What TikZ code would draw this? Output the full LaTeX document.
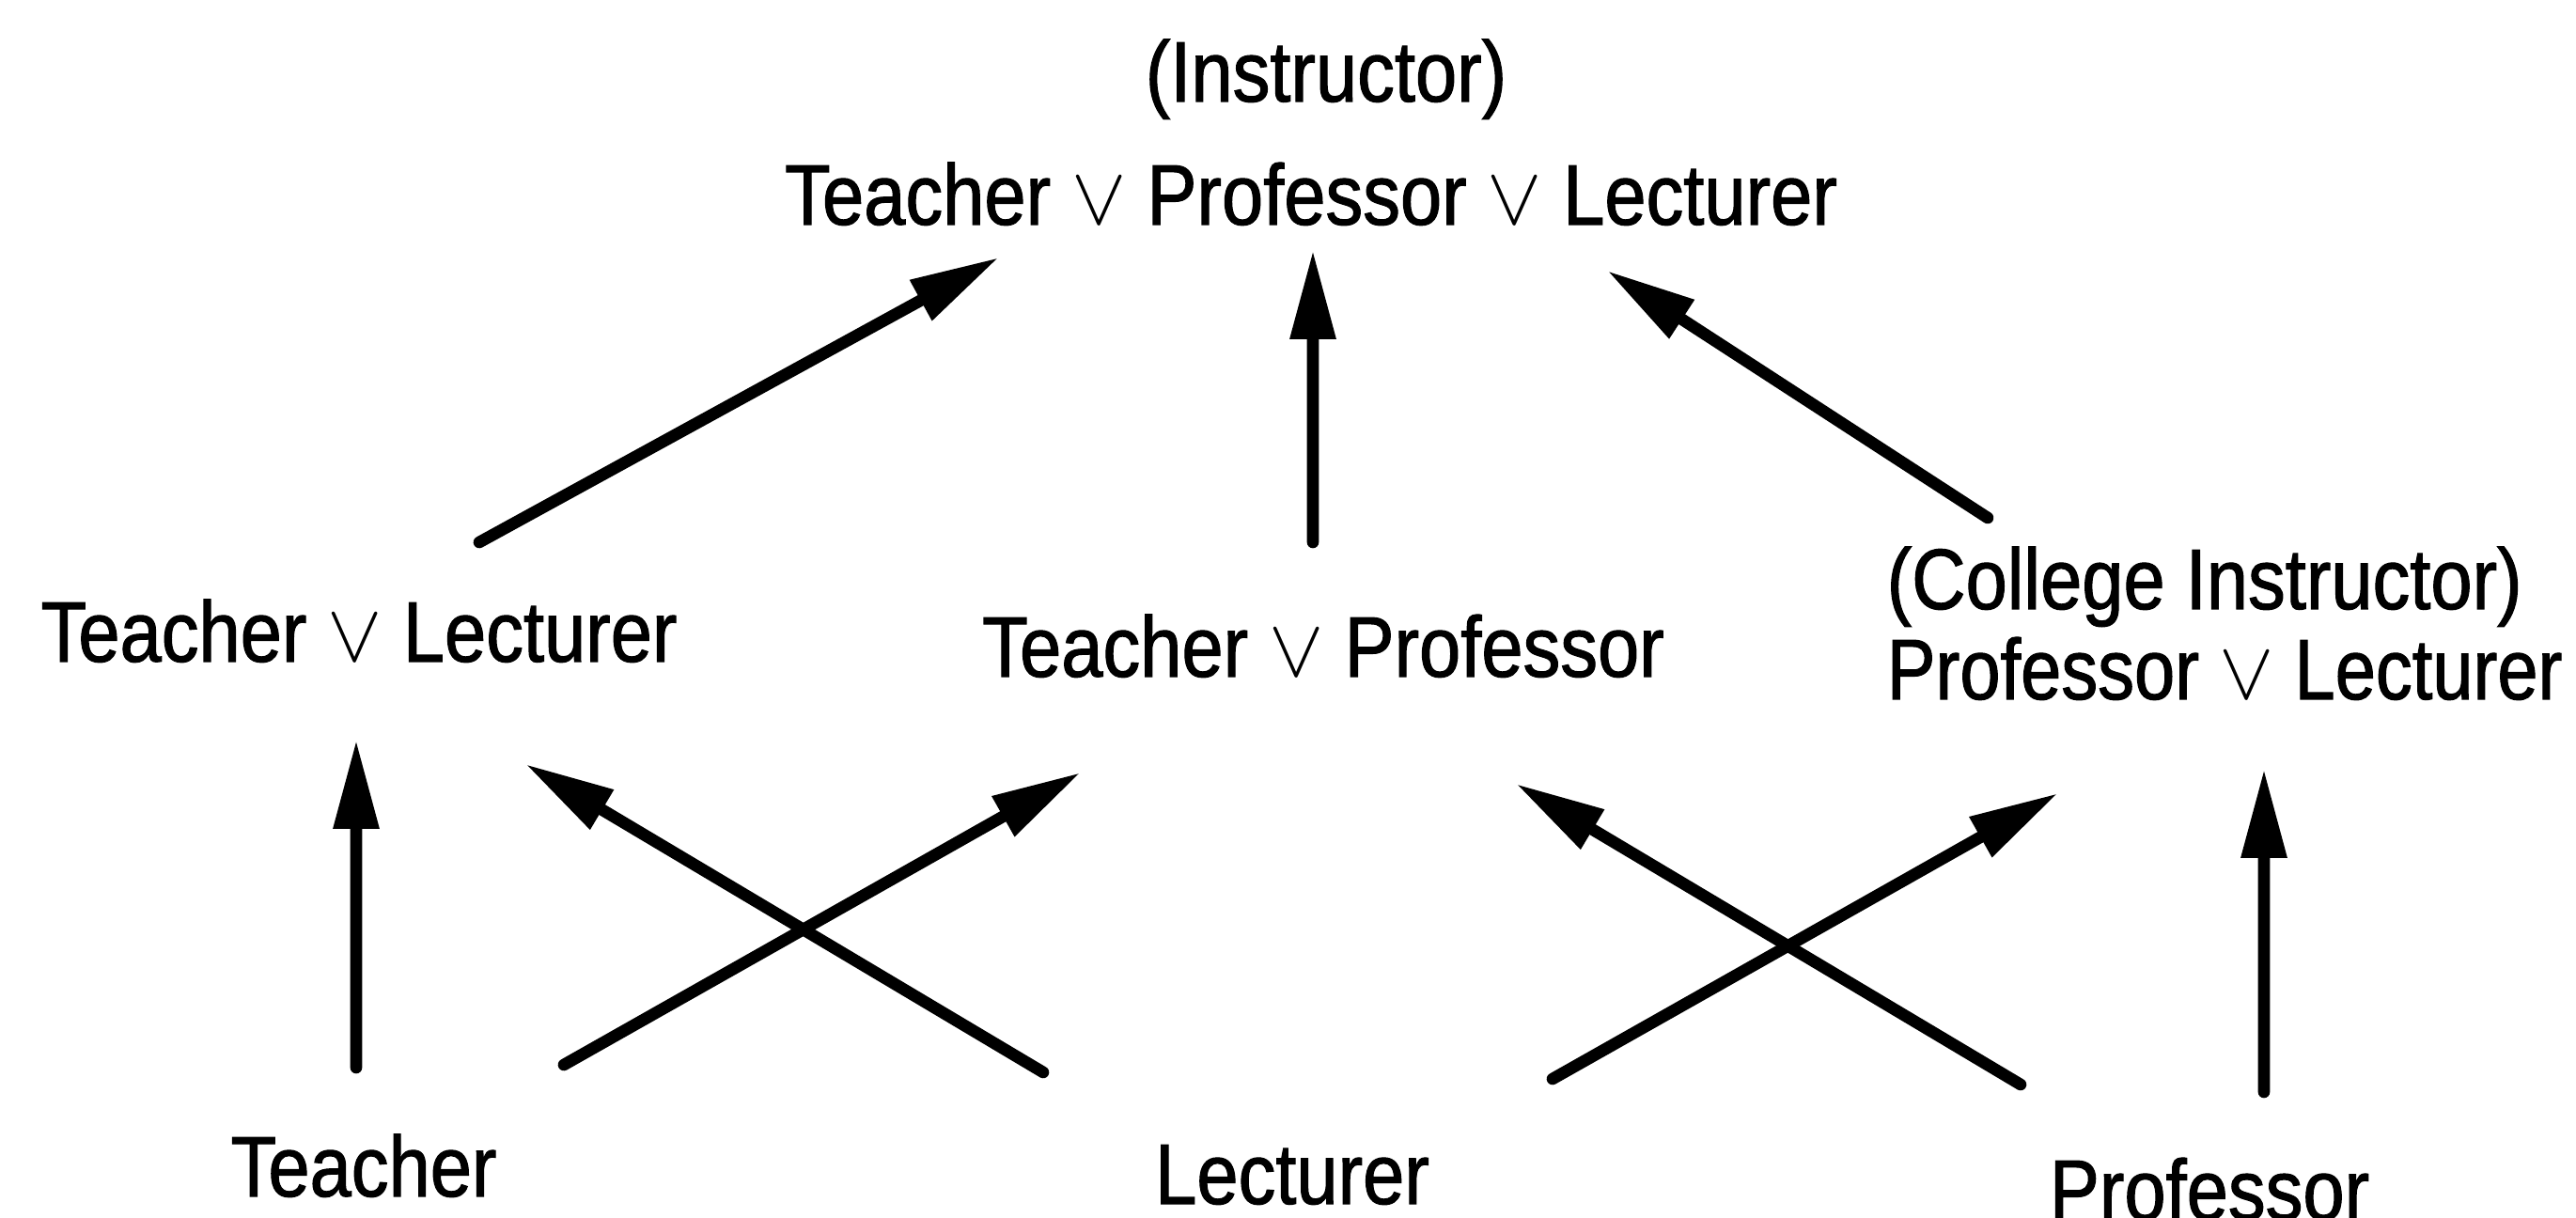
\documentclass[tikz,border=0pt]{standalone}
\usepackage{fontspec}
\setmainfont{Liberation Sans}[FakeStretch=0.87,FakeBold=1.2]
\usetikzlibrary{arrows.meta}

\newcommand{\orop}{$\vee$}

\begin{document}
\begin{tikzpicture}[font=\fontsize{26pt}{30pt}\selectfont,
  lbl/.style={inner sep=0pt,anchor=base},
  lblw/.style={inner sep=0pt,anchor=base west},
  arr/.style={-{Triangle[length=9.5mm,width=4.6mm]},line width=3.6pt,line cap=round}]
  \useasboundingbox (0,0) rectangle (27.41,12.96);
  \node[lbl] (inst) at (14.11,11.88) {(Instructor)};
  \node[lbl] (top) at (13.95,10.57) {Teacher \orop{} Professor \orop{} Lecturer};
  \node[lbl] (TL) at (3.82,5.92) {Teacher \orop{} Lecturer};
  \node[lbl] (TP) at (14.08,5.76) {Teacher \orop{} Professor};
  \node[lblw] (CI) at (20.07,6.48) {(College Instructor)};
  \node[lblw] (PL) at (20.07,5.52) {\addfontfeatures{FakeStretch=0.85}Professor \orop{} Lecturer};
  \node[lbl] (T) at (3.87,0.23) {Teacher};
  \node[lbl] (L) at (13.75,0.15) {Lecturer};
  \node[lbl] (P) at (23.51,-0.02) {Professor};
  \draw[arr] ([shift={(1.28,1.27)}]TL.base) -- ([shift={(-3.32,-0.35)}]top.base);
  \draw[arr] ([shift={(-0.11,1.43)}]TP.base) -- ([shift={(0.02,-0.27)}]top.base);
  \draw[arr] ([shift={(1.08,0.97)}]CI.base west) -- ([shift={(3.15,-0.49)}]top.base);
  \draw[arr] ([shift={(-0.08,1.37)}]T.base) -- ([shift={(-0.03,-0.83)}]TL.base);
  \draw[arr] ([shift={(2.13,1.40)}]T.base) -- ([shift={(-2.58,-1.02)}]TP.base);
  \draw[arr] ([shift={(-2.65,1.40)}]L.base) -- ([shift={(1.77,-1.09)}]TL.base);
  \draw[arr] ([shift={(2.77,1.33)}]L.base) -- ([shift={(1.83,-1.00)}]PL.base west);
  \draw[arr] ([shift={(-2.01,1.44)}]P.base) -- ([shift={(2.05,-1.14)}]TP.base);
  \draw[arr] ([shift={(0.58,1.36)}]P.base) -- ([shift={(4.02,-0.74)}]PL.base west);
\end{tikzpicture}
\end{document}
